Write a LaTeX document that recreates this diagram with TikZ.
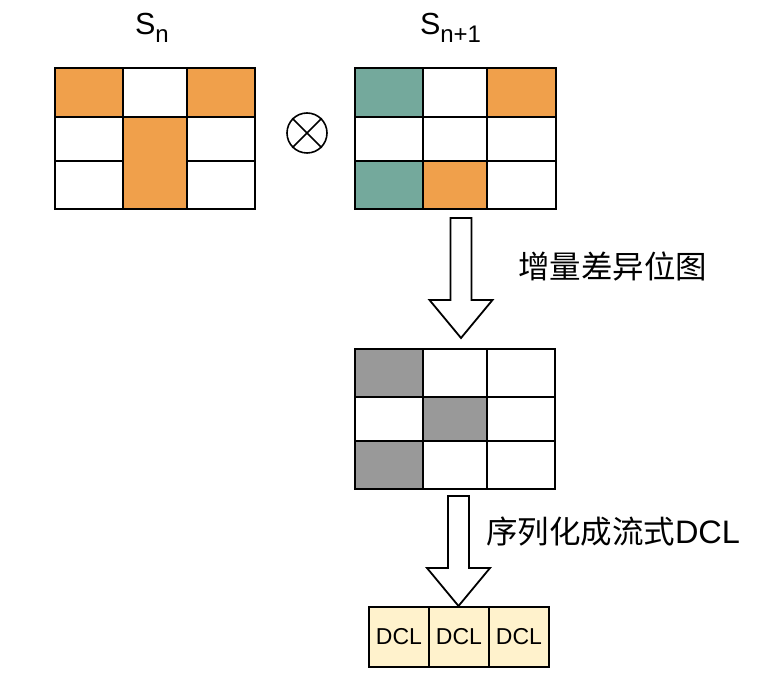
\documentclass[tikz,border=0pt]{standalone}
\usepackage{fontspec}
\setmainfont{Liberation Sans}
\newfontfamily\cjk{Noto Sans CJK SC}
\usetikzlibrary{calc}
\definecolor{cOrange}{HTML}{F0A04B}
\definecolor{cTeal}{HTML}{74A99C}
\definecolor{cGray}{HTML}{999999}
\definecolor{cCream}{HTML}{FFF2CC}
\tikzset{
  gridcell/.style={draw=black, line width=1.8pt, inner sep=0pt, outer sep=0pt},
  dclbox/.style={draw=black, line width=1.8pt, fill=cCream, inner sep=0pt, outer sep=0pt,
    minimum width=60pt, minimum height=60pt, font=\fontsize{23}{23}\selectfont},
  lbl/.style={inner sep=0pt, outer sep=0pt},
  barrow/.style={draw=black, fill=white, line width=1.8pt, line join=miter},
}
\newcommand\gcell[6]{\node[gridcell, fill=#6, minimum width={(#4-#2)*1pt}, minimum height={(#5-#3)*1pt}] (#1) at ({(#2+#4)/2},{(#3+#5)/2}) {};}
\newcommand\blockarrow[2]{\draw[barrow] ($(#1)+(-10.5,0)$) -- ($(#1)+(10.5,0)$) -- ($(#2)+(10.5,-38)$) -- ($(#2)+(31.5,-38)$) -- (#2) -- ($(#2)+(-31.5,-38)$) -- ($(#2)+(-10.5,-38)$) -- cycle;}
\begin{document}
\begin{tikzpicture}[x=1pt,y=-1pt]
\useasboundingbox (0,0) rectangle (774,692);
% labels
\node[lbl, anchor=base west, font=\fontsize{30.5}{30.5}\selectfont] (lsn) at (135,34.5) {S\raisebox{-8pt}{\fontsize{24}{24}\selectfont n}};
\node[lbl, anchor=base west, font=\fontsize{30.5}{30.5}\selectfont] (lsn1) at (420,34.5) {S\raisebox{-8pt}{\fontsize{24}{24}\selectfont n+1}};
% grid 1
\gcell{a11}{55}{68}{123}{117}{cOrange}
\gcell{a12}{123}{68}{187}{117}{white}
\gcell{a13}{187}{68}{255}{117}{cOrange}
\gcell{a21}{55}{117}{123}{161}{white}
\gcell{a31}{55}{161}{123}{209}{white}
\gcell{a23}{187}{117}{255}{161}{white}
\gcell{a33}{187}{161}{255}{209}{white}
\gcell{a22}{123}{117}{187}{209}{cOrange}
% otimes
\node[circle, draw=black, line width=1.6pt, minimum size=40pt, inner sep=0pt] (ot) at (307,133) {};
\draw[line width=1.6pt] (ot.north west) -- (ot.south east);
\draw[line width=1.6pt] (ot.north east) -- (ot.south west);
% grid 2
\gcell{b11}{355}{68}{423}{117}{cTeal}
\gcell{b12}{423}{68}{487}{117}{white}
\gcell{b13}{487}{68}{556}{117}{cOrange}
\gcell{b21}{355}{117}{423}{161}{white}
\gcell{b22}{423}{117}{487}{161}{white}
\gcell{b23}{487}{117}{556}{161}{white}
\gcell{b31}{355}{161}{423}{209}{cTeal}
\gcell{b32}{423}{161}{487}{209}{cOrange}
\gcell{b33}{487}{161}{556}{209}{white}
% grid 3
\gcell{c11}{355}{349}{423}{397}{cGray}
\gcell{c12}{423}{349}{487}{397}{white}
\gcell{c13}{487}{349}{555}{397}{white}
\gcell{c21}{355}{397}{423}{441}{white}
\gcell{c22}{423}{397}{487}{441}{cGray}
\gcell{c23}{487}{397}{555}{441}{white}
\gcell{c31}{355}{441}{423}{489}{cGray}
\gcell{c32}{423}{441}{487}{489}{white}
\gcell{c33}{487}{441}{555}{489}{white}
% DCL boxes
\node[dclbox] (d1) at (399,637) {DCL};
\node[dclbox] (d2) at (459,637) {DCL};
\node[dclbox] (d3) at (519,637) {DCL};
% arrows
\coordinate (a1top) at (461,218);
\coordinate (a1tip) at (461,338);
\coordinate (a2top) at (458.5,496);
\coordinate (a2tip) at (458.5,606);
\blockarrow{a1top}{a1tip}
\blockarrow{a2top}{a2tip}
% arrow labels
\node[lbl, anchor=west, font=\fontsize{31.5}{31.5}\selectfont] (t1) at (518,266) {\cjk 增量差异位图};
\node[lbl, anchor=west, font=\fontsize{31.5}{31.5}\selectfont] (t2) at (486,532) {{\cjk 序列化成流式}\fontsize{32.5}{32.5}\selectfont DCL};
\end{tikzpicture}
\end{document}
